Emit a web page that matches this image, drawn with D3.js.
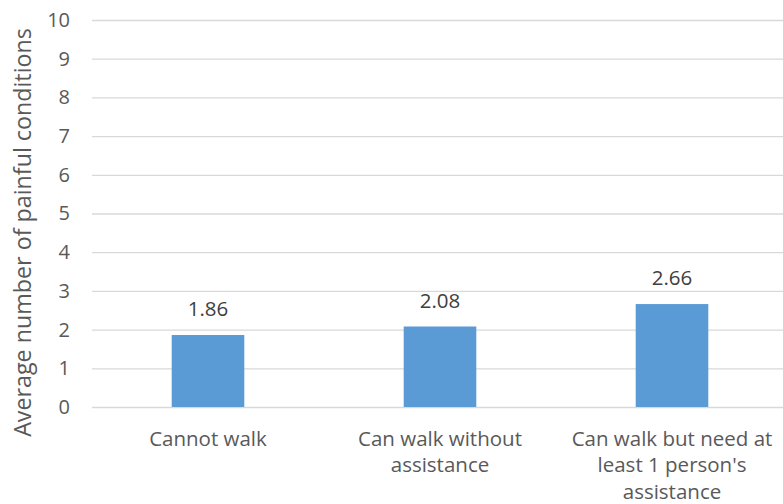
<!DOCTYPE html>
<html>
<head>
<meta charset="utf-8">
<script src="https://cdn.jsdelivr.net/npm/d3@7"></script>
<style>
  html, body { margin: 0; padding: 0; background: #fff; }
  svg { display: block; }
  text { font-family: "Open Sans", "Noto Sans", sans-serif; }
</style>
</head>
<body>
<svg id="chart" width="783" height="504"></svg>
<script>
const categories = ["Cannot walk", "Can walk without assistance", "Can walk but need at least 1 person's assistance"];
const categoryLines = [["Cannot walk"], ["Can walk without", "assistance"], ["Can walk but need at", "least 1 person's", "assistance"]];
const values = [1.86, 2.08, 2.66];
const yTicks = [0, 1, 2, 3, 4, 5, 6, 7, 8, 9, 10];
const yTitle = "Average number of painful conditions";

const svg = d3.select("#chart");
const margin = { left: 92, right: 788, top: 20, bottom: 407 };

const x = d3.scaleBand().domain(categories).range([margin.left, margin.right])
  .paddingInner(0.687).paddingOuter(0.3435);
const y = d3.scaleLinear().domain([0, 10]).range([margin.bottom, margin.top]);

// gridlines + tick labels
const yAxis = d3.axisLeft(y).tickValues(yTicks).tickSize(-(margin.right - margin.left)).tickPadding(22).tickFormat(d3.format("d"));
const gy = svg.append("g").attr("transform", `translate(${margin.left},0)`).call(yAxis);
gy.select(".domain").remove();
gy.selectAll(".tick line").attr("stroke", "#d9d9d9").attr("stroke-width", 1.3);
gy.selectAll(".tick text").attr("fill", "#595959").style("font-size", "20px").style("font-family", null);

// bars
svg.append("g").selectAll("rect").data(values).join("rect")
  .attr("x", (d, i) => x(categories[i]))
  .attr("width", x.bandwidth())
  .attr("y", d => y(d))
  .attr("height", d => y(0) - y(d))
  .attr("fill", "#5b9bd5");

// data labels
svg.append("g").selectAll("text").data(values).join("text")
  .attr("x", (d, i) => x(categories[i]) + x.bandwidth() / 2)
  .attr("y", d => y(d) - 19)
  .attr("text-anchor", "middle")
  .attr("fill", "#404040")
  .style("font-size", "20.5px")
  .text(d => d.toFixed(2));

// category labels
const gx = svg.append("g");
categories.forEach((c, i) => {
  const t = gx.append("text")
    .attr("x", x(c) + x.bandwidth() / 2)
    .attr("y", y(0) + 38.5)
    .attr("text-anchor", "middle")
    .attr("fill", "#595959")
    .style("font-size", "20.5px");
  categoryLines[i].forEach((line, j) => {
    t.append("tspan").attr("x", x(c) + x.bandwidth() / 2).attr("dy", j === 0 ? 0 : 26.5).text(line);
  });
});

// y title
const title = svg.append("text")
  .attr("transform", `translate(31,${(28 + 437) / 2}) rotate(-90)`)
  .attr("text-anchor", "middle")
  .attr("fill", "#595959")
  .style("font-size", "20px")
  .text(yTitle);
const len = title.node().getComputedTextLength();
title.style("font-size", (20 * 409 / len).toFixed(2) + "px");
</script>
</body>
</html>
